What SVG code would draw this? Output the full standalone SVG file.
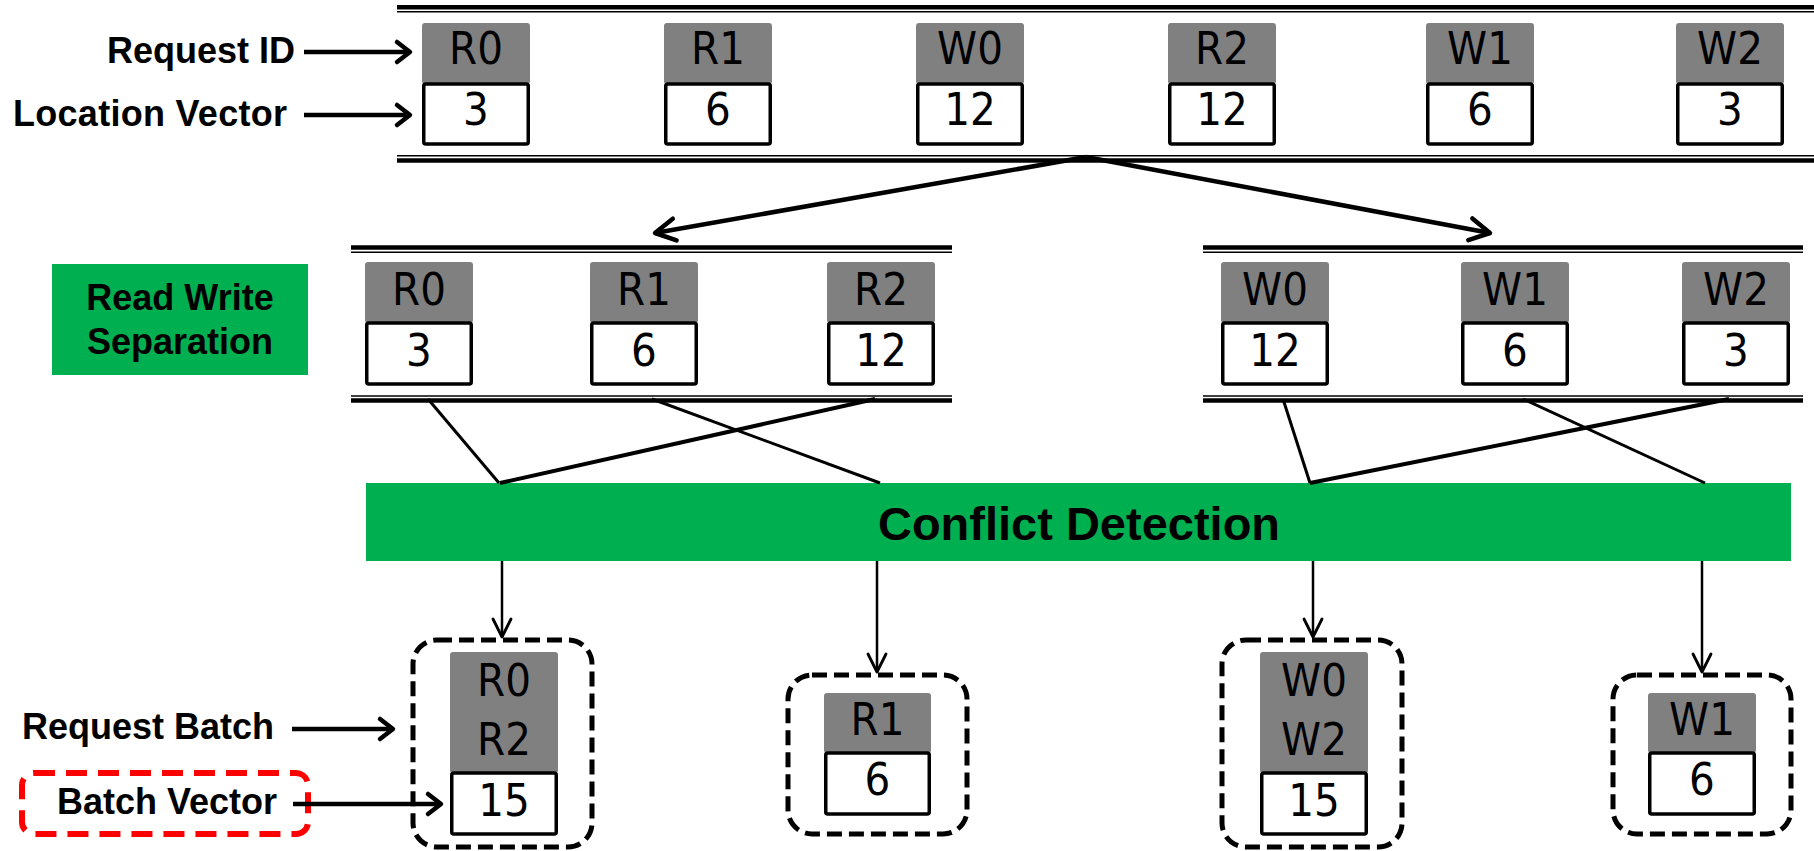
<svg xmlns="http://www.w3.org/2000/svg" width="1814" height="851" viewBox="0 0 1814 851">
  <defs>
    <style>
      .bg { fill: #ffffff; }
      .rail-thick { stroke: #000; stroke-width: 4.5; }
      .rail-thin { stroke: #000; stroke-width: 1.5; }
      .rid { fill: #808080; }
      .vec { fill: #ffffff; stroke: #000; stroke-width: 3.5; }
      .tid, .tvec { font-family: "Liberation Sans Narrow", "DejaVu Sans Condensed", "DejaVu Sans", sans-serif; font-stretch: condensed; font-size: 45px; text-anchor: middle; fill: #000; }
      .lbl { font-family: "Liberation Sans", Arial, sans-serif; font-weight: bold; font-size: 36px; fill: #000; }
      .green { fill: #00B050; }
      .batch { fill: none; stroke: #000; stroke-width: 5; stroke-dasharray: 15 7; }
      .batch-red { fill: none; stroke: #FF0000; stroke-width: 6; stroke-dasharray: 21 11; }
      .conn { fill: none; stroke: #000; stroke-width: 3; }
      .conn-b { fill: none; stroke: #000; stroke-width: 4; }
      .split { fill: none; stroke: #000; stroke-width: 4.5; }
      .down { fill: none; stroke: #000; stroke-width: 2.5; }
      .ptr { fill: none; stroke: #000; stroke-width: 4.5; }
    </style>
    <marker id="head-split" markerUnits="userSpaceOnUse" orient="auto" markerWidth="1" markerHeight="1" overflow="visible">
      <path d="M-20,-11 L0,0 L-20,11" fill="none" stroke="#000" stroke-width="4.5" stroke-linecap="round" stroke-linejoin="round"/>
    </marker>
    <marker id="head-down" markerUnits="userSpaceOnUse" orient="auto" markerWidth="1" markerHeight="1" overflow="visible">
      <path d="M-18,-9 L0,0 L-18,9" fill="none" stroke="#000" stroke-width="2.8" stroke-linecap="round" stroke-linejoin="round"/>
    </marker>
    <marker id="head-ptr" markerUnits="userSpaceOnUse" orient="auto" markerWidth="1" markerHeight="1" overflow="visible">
      <path d="M-13,-10 L0,0 L-13,10" fill="none" stroke="#000" stroke-width="4.5" stroke-linecap="round" stroke-linejoin="round"/>
    </marker>
  </defs>

  <rect class="bg" x="0" y="0" width="1814" height="851"/>

  <!-- incoming request queue -->
  <g id="queue-all">
    <line class="rail-thick" x1="397" y1="7.2" x2="1814" y2="7.2"/>
    <line class="rail-thin" x1="397" y1="11.8" x2="1814" y2="11.8"/>
    <line class="rail-thin" x1="397" y1="155.8" x2="1814" y2="155.8"/>
    <line class="rail-thick" x1="397" y1="160.5" x2="1814" y2="160.5"/>
  </g>
  <g id="req-r0-top">
    <rect class="rid" x="422" y="23" width="108" height="61" rx="3"/>
    <rect class="vec" x="423.75" y="84" width="104.5" height="60" rx="2"/>
    <text class="tid" x="476" y="64">R0</text>
    <text class="tvec" x="476" y="125">3</text>
  </g>
  <g id="req-r1-top">
    <rect class="rid" x="664" y="23" width="108" height="61" rx="3"/>
    <rect class="vec" x="665.75" y="84" width="104.5" height="60" rx="2"/>
    <text class="tid" x="718" y="64">R1</text>
    <text class="tvec" x="718" y="125">6</text>
  </g>
  <g id="req-w0-top">
    <rect class="rid" x="916" y="23" width="108" height="61" rx="3"/>
    <rect class="vec" x="917.75" y="84" width="104.5" height="60" rx="2"/>
    <text class="tid" x="970" y="64">W0</text>
    <text class="tvec" x="970" y="125">12</text>
  </g>
  <g id="req-r2-top">
    <rect class="rid" x="1168" y="23" width="108" height="61" rx="3"/>
    <rect class="vec" x="1169.75" y="84" width="104.5" height="60" rx="2"/>
    <text class="tid" x="1222" y="64">R2</text>
    <text class="tvec" x="1222" y="125">12</text>
  </g>
  <g id="req-w1-top">
    <rect class="rid" x="1426" y="23" width="108" height="61" rx="3"/>
    <rect class="vec" x="1427.75" y="84" width="104.5" height="60" rx="2"/>
    <text class="tid" x="1480" y="64">W1</text>
    <text class="tvec" x="1480" y="125">6</text>
  </g>
  <g id="req-w2-top">
    <rect class="rid" x="1676" y="23" width="108" height="61" rx="3"/>
    <rect class="vec" x="1677.75" y="84" width="104.5" height="60" rx="2"/>
    <text class="tid" x="1730" y="64">W2</text>
    <text class="tvec" x="1730" y="125">3</text>
  </g>

  <!-- annotations on the left -->
  <g id="label-request-id">
    <text class="lbl" x="295" y="63" text-anchor="end">Request ID</text>
  </g>
  <g id="label-location-vector">
    <text class="lbl" x="287" y="126" text-anchor="end" textLength="274">Location Vector</text>
  </g>

  <!-- read queue -->
  <g id="queue-read">
    <line class="rail-thick" x1="351" y1="247.5" x2="952" y2="247.5"/>
    <line class="rail-thin" x1="351" y1="252.2" x2="952" y2="252.2"/>
    <line class="rail-thin" x1="351" y1="396" x2="952" y2="396"/>
    <line class="rail-thick" x1="351" y1="400.6" x2="952" y2="400.6"/>
  </g>
  <g id="req-r0-mid">
    <rect class="rid" x="365" y="262" width="108" height="61" rx="3"/>
    <rect class="vec" x="366.75" y="323" width="104.5" height="61" rx="2"/>
    <text class="tid" x="419" y="305">R0</text>
    <text class="tvec" x="419" y="366">3</text>
  </g>
  <g id="req-r1-mid">
    <rect class="rid" x="590" y="262" width="108" height="61" rx="3"/>
    <rect class="vec" x="591.75" y="323" width="104.5" height="61" rx="2"/>
    <text class="tid" x="644" y="305">R1</text>
    <text class="tvec" x="644" y="366">6</text>
  </g>
  <g id="req-r2-mid">
    <rect class="rid" x="827" y="262" width="108" height="61" rx="3"/>
    <rect class="vec" x="828.75" y="323" width="104.5" height="61" rx="2"/>
    <text class="tid" x="881" y="305">R2</text>
    <text class="tvec" x="881" y="366">12</text>
  </g>

  <!-- write queue -->
  <g id="queue-write">
    <line class="rail-thick" x1="1203" y1="247.5" x2="1803" y2="247.5"/>
    <line class="rail-thin" x1="1203" y1="252.2" x2="1803" y2="252.2"/>
    <line class="rail-thin" x1="1203" y1="396" x2="1803" y2="396"/>
    <line class="rail-thick" x1="1203" y1="400.6" x2="1803" y2="400.6"/>
  </g>
  <g id="req-w0-mid">
    <rect class="rid" x="1221" y="262" width="108" height="61" rx="3"/>
    <rect class="vec" x="1222.75" y="323" width="104.5" height="61" rx="2"/>
    <text class="tid" x="1275" y="305">W0</text>
    <text class="tvec" x="1275" y="366">12</text>
  </g>
  <g id="req-w1-mid">
    <rect class="rid" x="1461" y="262" width="108" height="61" rx="3"/>
    <rect class="vec" x="1462.75" y="323" width="104.5" height="61" rx="2"/>
    <text class="tid" x="1515" y="305">W1</text>
    <text class="tvec" x="1515" y="366">6</text>
  </g>
  <g id="req-w2-mid">
    <rect class="rid" x="1682" y="262" width="108" height="61" rx="3"/>
    <rect class="vec" x="1683.75" y="323" width="104.5" height="61" rx="2"/>
    <text class="tid" x="1736" y="305">W2</text>
    <text class="tvec" x="1736" y="366">3</text>
  </g>

  <!-- stage labels -->
  <g id="stage-separation">
    <rect class="green" x="52" y="264" width="256" height="111"/>
    <text class="lbl" x="180" y="310" text-anchor="middle">Read Write</text>
    <text class="lbl" x="180" y="354" text-anchor="middle">Separation</text>
  </g>
  <g id="stage-conflict">
    <rect class="green" x="366" y="483" width="1425" height="78"/>
    <text class="lbl" x="1079" y="540" text-anchor="middle" style="font-size:47px">Conflict Detection</text>
  </g>

  <!-- resulting batches -->
  <g id="batch-r0-r2">
    <rect class="batch" x="413" y="640" width="179" height="207" rx="24"/>
    <rect class="rid" x="450" y="652" width="108" height="121" rx="3"/>
    <rect class="vec" x="451.75" y="773" width="104.5" height="61" rx="2"/>
    <text class="tid" x="504" y="696">R0</text>
    <text class="tid" x="504" y="755">R2</text>
    <text class="tvec" x="504" y="816">15</text>
  </g>
  <g id="batch-r1">
    <rect class="batch" x="788" y="675" width="179" height="159" rx="24"/>
    <rect class="rid" x="824" y="693" width="107" height="60" rx="3"/>
    <rect class="vec" x="825.75" y="753" width="103.5" height="61" rx="2"/>
    <text class="tid" x="877.5" y="735">R1</text>
    <text class="tvec" x="877.5" y="795">6</text>
  </g>
  <g id="batch-w0-w2">
    <rect class="batch" x="1222" y="640" width="180" height="207" rx="24"/>
    <rect class="rid" x="1260" y="652" width="108" height="121" rx="3"/>
    <rect class="vec" x="1261.75" y="773" width="104.5" height="61" rx="2"/>
    <text class="tid" x="1314" y="696">W0</text>
    <text class="tid" x="1314" y="755">W2</text>
    <text class="tvec" x="1314" y="816">15</text>
  </g>
  <g id="batch-w1">
    <rect class="batch" x="1613" y="675" width="178" height="159" rx="24"/>
    <rect class="rid" x="1648" y="693" width="108" height="60" rx="3"/>
    <rect class="vec" x="1649.75" y="753" width="104.5" height="61" rx="2"/>
    <text class="tid" x="1702" y="735">W1</text>
    <text class="tvec" x="1702" y="795">6</text>
  </g>

  <g id="label-request-batch">
    <text class="lbl" x="22" y="739">Request Batch</text>
  </g>
  <g id="label-batch-vector">
    <rect class="batch-red" x="22" y="773" width="286" height="61" rx="12"/>
    <text class="lbl" x="57" y="814">Batch Vector</text>
  </g>

  <!-- connectors -->
  <g id="connectors">
    <line class="ptr" x1="304" y1="52" x2="410" y2="52" marker-end="url(#head-ptr)"/>
    <line class="ptr" x1="304" y1="115" x2="410" y2="115" marker-end="url(#head-ptr)"/>
    <line class="ptr" x1="292" y1="729" x2="393" y2="729" marker-end="url(#head-ptr)"/>
    <line class="ptr" x1="293" y1="804" x2="441" y2="804" marker-end="url(#head-ptr)"/>

    <line class="split" x1="1086" y1="157" x2="655" y2="233" marker-end="url(#head-split)"/>
    <line class="split" x1="1086" y1="157" x2="1490" y2="233" marker-end="url(#head-split)"/>

    <line class="conn" x1="428" y1="399" x2="499" y2="483"/>
    <line class="conn" x1="652" y1="399" x2="880" y2="483"/>
    <line class="conn-b" x1="875" y1="399" x2="500" y2="483"/>
    <line class="conn" x1="1283" y1="399" x2="1310" y2="483"/>
    <line class="conn" x1="1523" y1="399" x2="1705" y2="483"/>
    <line class="conn-b" x1="1729" y1="399" x2="1310" y2="483"/>

    <line class="down" x1="502" y1="561" x2="502" y2="637" marker-end="url(#head-down)"/>
    <line class="down" x1="877" y1="561" x2="877" y2="672" marker-end="url(#head-down)"/>
    <line class="down" x1="1313" y1="561" x2="1313" y2="637" marker-end="url(#head-down)"/>
    <line class="down" x1="1702" y1="561" x2="1702" y2="672" marker-end="url(#head-down)"/>
  </g>
</svg>
